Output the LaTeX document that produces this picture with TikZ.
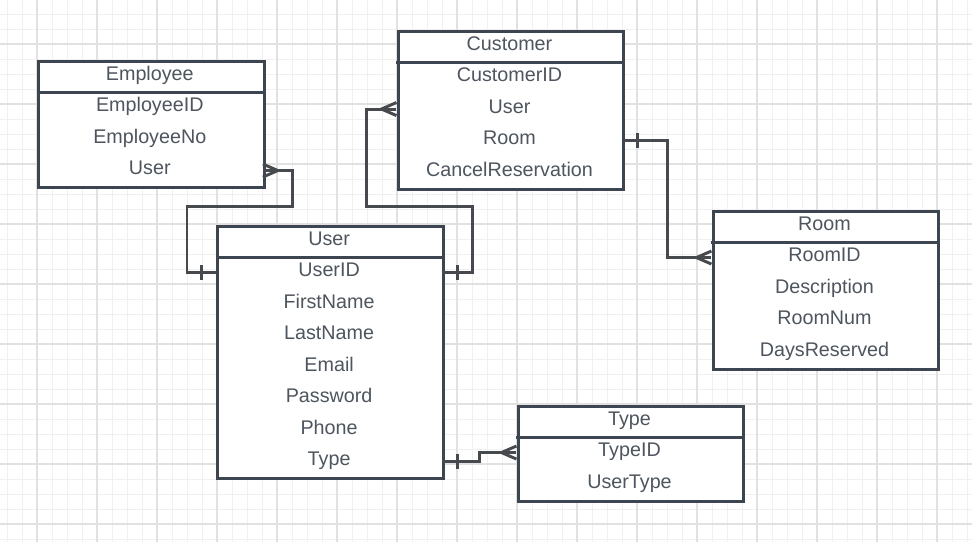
\documentclass[tikz,border=0pt]{standalone}
\usepackage{fontspec}
\setmainfont{Liberation Sans}
\usetikzlibrary{shadows}
\definecolor{gridminor}{HTML}{F0F0F0}
\definecolor{gridmajor}{HTML}{E1E1E1}
\definecolor{boxline}{HTML}{3C4550}
\definecolor{connline}{HTML}{46494D}
\definecolor{txt}{HTML}{4E555E}
\tikzset{
  ebox/.style={draw=boxline, line width=2.25pt, fill=white, minimum width=169.2pt,
    inner sep=0pt, anchor=north west,
    drop shadow={shadow xshift=0.4pt, shadow yshift=-1.2pt, opacity=0.12, fill=black}},
  erow/.style={minimum width=169.2pt, minimum height=23.625pt, inner sep=0pt,
    text height=9.375pt, text depth=3pt, text=txt,
    font=\fontsize{14.8pt}{17pt}\selectfont},
  divider/.style={draw=boxline, line width=2.25pt},
  conn/.style={draw=connline, line width=2.2pt},
  gminor/.style={draw=gridminor, line width=0.7pt},
  gmajor/.style={draw=gridmajor, line width=0.8pt}
}
% #1 name, #2 left, #3 top, #4 number of rows, #5 title, #6 rows
\newcommand{\erbox}[6]{%
  \node[ebox, minimum height={(#4+1)*23.625pt}] (#1) at (#2,#3) {};
  \node[erow] (#1-0) at (#2+112.8, #3+15.75) {#5};
  \draw[divider] (#1-0.south west) -- (#1-0.south east);
  \foreach \r [count=\i from 1] in {#6} {
    \node[erow] (#1-\i) at (#2+112.8, #3+15.75+31.5*\i) {\r};
  }
}
% crow's foot (many): #1 anchor, #2 direction (+1 right, -1 left)
\newcommand{\manyfoot}[2]{%
  \draw[conn] ([yshift=4.875pt]#1) -- ([xshift=#2*11.25pt]#1) -- ([yshift=-4.875pt]#1);
}
% one bar: #1 anchor, #2 direction
\newcommand{\onebar}[2]{%
  \draw[conn] ([xshift=#2*11.25pt, yshift=5.625pt]#1) -- ([xshift=#2*11.25pt, yshift=-5.625pt]#1);
}
\begin{document}
\begin{tikzpicture}[x=0.75pt, y=-0.75pt]
\useasboundingbox (0,0) rectangle (972,542);
\fill[white] (0,0) rectangle (972,542);
% grid
\foreach \k in {0,...,64} { \draw[gminor] (7+15*\k,0) -- (7+15*\k,542); }
\foreach \k in {0,...,35} { \draw[gminor] (0,14+15*\k) -- (972,14+15*\k); }
\foreach \k in {0,...,15} { \draw[gmajor] (37+60*\k,0) -- (37+60*\k,542); }
\foreach \k in {0,...,8} { \draw[gmajor] (0,44+60*\k) -- (972,44+60*\k); }

% entities
\erbox{emp}{37}{60.3}{3}{Employee}{EmployeeID,EmployeeNo,User}
\erbox{cus}{396.7}{30.3}{4}{Customer}{CustomerID,User,Room,CancelReservation}
\erbox{room}{711.7}{210.3}{4}{Room}{RoomID,Description,RoomNum,DaysReserved}
\erbox{user}{216.3}{225.3}{7}{User}{UserID,FirstName,LastName,Email,Password,Phone,Type}
\erbox{type}{516.7}{405.3}{2}{Type}{TypeID,UserType}

% Employee.User -> User.UserID
\draw[conn] (emp-3.east) -- ++(29.4,0) |- (187,206.5) |- (user-1.west);
\manyfoot{emp-3.east}{1}
\onebar{user-1.west}{-1}
% Customer.User -> User.UserID
\draw[conn] (cus-2.west) -- ++(-29.7,0) |- (472.3,206.5) |- (user-1.east);
\manyfoot{cus-2.west}{-1}
\onebar{user-1.east}{1}
% Customer.Room -> Room.RoomID
\draw[conn] (cus-3.east) -- ++(44.7,0) |- (room-1.west);
\onebar{cus-3.east}{1}
\manyfoot{room-1.west}{-1}
% User.Type -> Type.TypeID
\draw[conn] (user-7.east) -- ++(37.7,0) |- (type-1.west);
\onebar{user-7.east}{1}
\manyfoot{type-1.west}{-1}
\end{tikzpicture}
\end{document}
